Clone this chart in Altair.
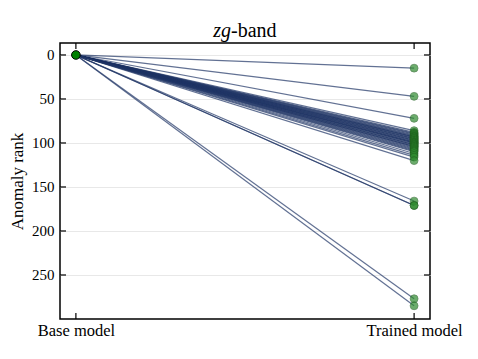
import altair as alt
import pandas as pd

stages = ["Base model", "Trained model"]
stage_pos = [0, 1]
base_rank = 0
trained_ranks = [15, 47, 72, 86, 88, 89, 90, 91, 92, 93, 93, 94, 95, 95, 96, 97, 97,
                 98, 99, 99, 100, 100, 101, 102, 102, 103, 104, 104, 105, 106, 107,
                 108, 109, 110, 112, 114, 116, 120, 166, 171, 171, 277, 285]
y_ticks = [0, 50, 100, 150, 200, 250]

rows = []
for i, r in enumerate(trained_ranks):
    rows.append({"id": i, "pos": stage_pos[0], "rank": base_rank})
    rows.append({"id": i, "pos": stage_pos[1], "rank": r})
df = pd.DataFrame(rows)
trained_df = df[df["pos"] == 1]
base_df = pd.DataFrame([{"pos": stage_pos[0], "rank": base_rank}])
yt_df = pd.DataFrame({"v": y_ticks})
xt_df = pd.DataFrame({"p": stage_pos})

W, H = 370, 276
FONT = "Liberation Serif"

xs = alt.Scale(domain=[-0.047, 1.047], nice=False, zero=False)
ys = alt.Scale(domain=[300, -13.6], nice=False, zero=False)

x_axis = alt.Axis(values=stage_pos, title=None, grid=False, ticks=False, domain=False,
                  labelExpr="datum.value == 0 ? 'Base model' : 'Trained model'",
                  labelFont=FONT, labelFontSize=16.5, labelColor="black", labelPadding=3)
y_axis = alt.Axis(values=y_ticks, title="Anomaly rank", grid=True, gridColor="#e8e8e8",
                  ticks=False, domain=False, labelFont=FONT, labelFontSize=15,
                  labelColor="black", labelPadding=6, titleFont=FONT, titleFontSize=17,
                  titleFontWeight="normal", titleColor="black", titlePadding=5)

lines = alt.Chart(df).mark_line(color="#1f3565", opacity=0.7, strokeWidth=1.2).encode(
    x=alt.X("pos:Q", scale=xs, axis=x_axis),
    y=alt.Y("rank:Q", scale=ys, axis=y_axis),
    detail="id:N",
)
tpts = alt.Chart(trained_df).mark_point(filled=True, size=62, color="#2e8b2e", opacity=0.7,
                                        stroke="#1d5c1d", strokeWidth=0.8).encode(
    x=alt.X("pos:Q", scale=xs), y=alt.Y("rank:Q", scale=ys))
bpt = alt.Chart(base_df).mark_point(filled=True, size=75, color="#008000", opacity=1,
                                    stroke="black", strokeWidth=1).encode(
    x=alt.X("pos:Q", scale=xs), y=alt.Y("rank:Q", scale=ys))

ytl = alt.Chart(yt_df).mark_rule(color="black", strokeWidth=1.2).encode(
    y=alt.Y("v:Q", scale=ys), x=alt.value(0), x2=alt.value(6))
ytr = alt.Chart(yt_df).mark_rule(color="black", strokeWidth=1.2).encode(
    y=alt.Y("v:Q", scale=ys), x=alt.value(W - 6), x2=alt.value(W))
xtb = alt.Chart(xt_df).mark_rule(color="black", strokeWidth=1.2).encode(
    x=alt.X("p:Q", scale=xs), y=alt.value(H - 6), y2=alt.value(H))
xtt = alt.Chart(xt_df).mark_rule(color="black", strokeWidth=1.2).encode(
    x=alt.X("p:Q", scale=xs), y=alt.value(0), y2=alt.value(6))

title_df = pd.DataFrame([{"a": 1}])
t1 = alt.Chart(title_df).mark_text(text="zg", font=FONT, fontSize=20, fontStyle="italic",
                                   align="right", baseline="alphabetic", color="black").encode(
    x=alt.value(171), y=alt.value(-6))
t2 = alt.Chart(title_df).mark_text(text="-band", font=FONT, fontSize=20,
                                   align="left", baseline="alphabetic", color="black").encode(
    x=alt.value(171), y=alt.value(-6))

chart = alt.layer(lines, tpts, bpt, ytl, ytr, xtb, xtt, t1, t2).properties(
    width=W, height=H,
    background="white",
    autosize=alt.AutoSizeParams(type="none"),
    padding={"left": 52, "top": 35, "right": 40, "bottom": 32},
).configure_view(stroke="black", strokeWidth=1.5)

chart.save("out.html", embed_options={"renderer": "svg", "actions": False})
